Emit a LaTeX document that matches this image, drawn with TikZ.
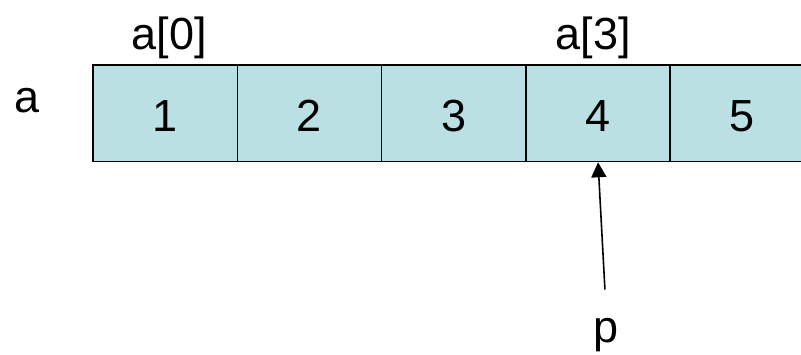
\documentclass[tikz,border=0pt]{standalone}
\usepackage{fontspec}
\setmainfont{Liberation Sans}
\usetikzlibrary{arrows.meta}
\definecolor{cellfill}{RGB}{187,224,227}
\tikzset{
  cell/.style={draw=black, line width=1.5pt, fill=cellfill, minimum width=144.3pt,
    minimum height=96.5pt, inner sep=0pt, text height=37pt, font=\fontsize{45}{50}\selectfont},
  lbl/.style={anchor=base, inner sep=0pt, font=\fontsize{45}{50}\selectfont},
  ptr/.style={line width=1.6pt, -{Triangle[length=15pt,width=15pt]}}
}
\begin{document}
\begin{tikzpicture}[x=1pt,y=-1pt]
\useasboundingbox (0,0) rectangle (801,355);
\clip (0,0) rectangle (801,355);
\foreach \i/\v in {0/1,1/2,2/3,3/4,4/5}{
  \node[cell] (c\i) at ({93+72.15+144.3*\i},113.3) {\v};
}
\node[lbl] (a) at (27,113) {a};
\node[lbl] (a0) at (169,50) {a[0]};
\node[lbl] (a3) at (593,50) {a[3]};
\node[lbl] (p) at (606.5,343) {p};
\draw[ptr, shorten <=29pt] (p.north) -- (c3.south);
\end{tikzpicture}
\end{document}
